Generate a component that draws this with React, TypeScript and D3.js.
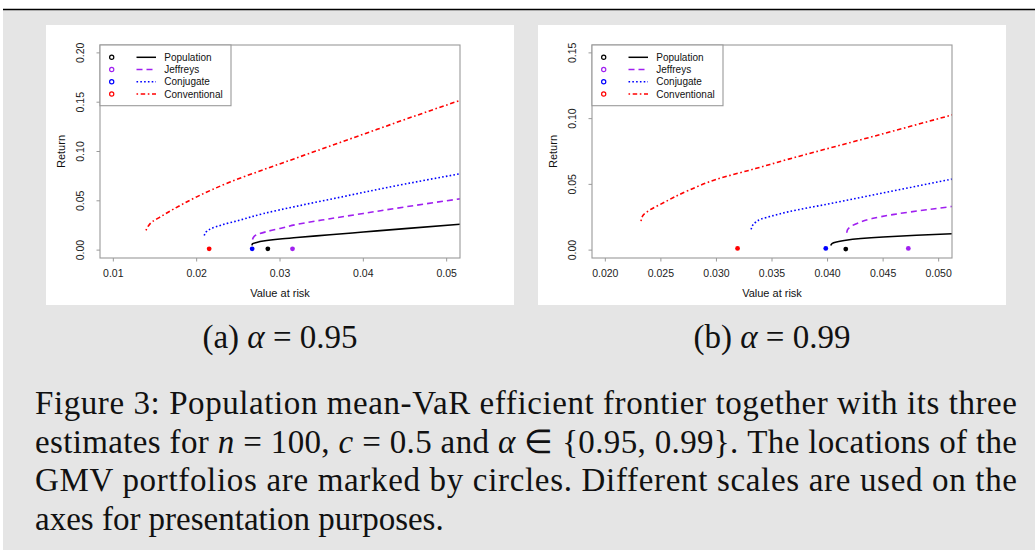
import * as d3 from "d3";

// panel (a): alpha = 0.95, points are [value at risk, return]
const populationA = [[0.02663, 0.0047], [0.0267, 0.0065], [0.0272, 0.0078], [0.028, 0.0092], [0.03, 0.0113], [0.032, 0.0128], [0.036, 0.0155], [0.04, 0.0183], [0.045, 0.0218], [0.052, 0.0265]];
const jeffreysA = [[0.0267, 0.0108], [0.0269, 0.014], [0.0275, 0.0165], [0.0285, 0.019], [0.03, 0.022], [0.032, 0.026], [0.036, 0.0318], [0.04, 0.0372], [0.045, 0.0438], [0.052, 0.0525]];
const conjugateA = [[0.02091, 0.0148], [0.0212, 0.019], [0.0218, 0.022], [0.023, 0.0255], [0.025, 0.03], [0.028, 0.037], [0.032, 0.0445], [0.036, 0.0515], [0.04, 0.0585], [0.045, 0.067], [0.052, 0.078]];
const conventionalA = [[0.01392, 0.02], [0.0142, 0.0245], [0.0147, 0.029], [0.0155, 0.033], [0.017, 0.0405], [0.02, 0.054], [0.024, 0.069], [0.028, 0.0815], [0.032, 0.0935], [0.036, 0.1055], [0.04, 0.1175], [0.045, 0.1325], [0.052, 0.153]];
// GMV portfolios: population, jeffreys, conjugate, conventional
const gmvVaRA = [0.02854, 0.0315, 0.02666, 0.0215];
const gmvRetA = [0.0013, 0.0013, 0.0013, 0.0013];

// panel (b): alpha = 0.99
const populationB = [[0.04029, 0.0036], [0.0404, 0.005], [0.0408, 0.0062], [0.0415, 0.0073], [0.043, 0.0088], [0.045, 0.01], [0.048, 0.0113], [0.0515, 0.0125]];
const jeffreysB = [[0.04173, 0.0132], [0.0418, 0.0155], [0.0421, 0.018], [0.0428, 0.0208], [0.044, 0.024], [0.046, 0.0272], [0.049, 0.0308], [0.0515, 0.0335]];
const conjugateB = [[0.03313, 0.0157], [0.0332, 0.018], [0.0335, 0.021], [0.034, 0.0235], [0.035, 0.026], [0.0365, 0.0292], [0.04, 0.035], [0.045, 0.0435], [0.0515, 0.0545]];
const conventionalB = [[0.02321, 0.022], [0.0234, 0.0265], [0.024, 0.0305], [0.025, 0.035], [0.0275, 0.0455], [0.03, 0.0538], [0.0335, 0.062], [0.0365, 0.0692], [0.04, 0.0772], [0.045, 0.0885], [0.0515, 0.1035]];
const gmvVaRB = [0.04164, 0.04727, 0.03984, 0.0319];
const gmvRetB = [0.0008, 0.0013, 0.0013, 0.0013];

const xTicksA = [0.01, 0.02, 0.03, 0.04, 0.05];
const yTicksA = [0, 0.05, 0.1, 0.15, 0.2];
const xTicksB = [0.02, 0.025, 0.03, 0.035, 0.04, 0.045, 0.05];
const yTicksB = [0, 0.05, 0.1, 0.15];

const seriesNames = ["Population", "Jeffreys", "Conjugate", "Conventional"];

const COLORS = ["#000000", "#a020f0", "#0000ff", "#ff0000"];
const DASHES = [null, "6,4", "1.6,2.2", "1.6,2.6,4.5,2.6"];
const SANS = "'Liberation Sans', Arial, Helvetica, sans-serif";
const SERIF = "'Liberation Serif', 'Times New Roman', serif";

// R style axis extension of 4%
const extend = (lo: number, hi: number) => [lo - 0.04 * (hi - lo), hi + 0.04 * (hi - lo)];

type PanelProps = {
  id: string;
  left: number;
  curves: number[][][];
  gmvX: number[];
  gmvY: number[];
  xTicks: number[];
  yTicks: number[];
  xFmt: string;
};

const Panel = ({ id, left, curves, gmvX, gmvY, xTicks, yTicks, xFmt }: PanelProps) => {
  const MARGIN = { left: 54, top: 20, width: 360, height: 213 };
  const px0 = left + MARGIN.left;
  const px1 = px0 + MARGIN.width;
  const py0 = 25 + MARGIN.top;
  const py1 = py0 + MARGIN.height;

  const x = d3.scaleLinear().domain(extend(xTicks[0], xTicks[xTicks.length - 1])).range([px0, px1]);
  const y = d3.scaleLinear().domain(extend(yTicks[0], yTicks[yTicks.length - 1])).range([py1, py0]);

  const line = d3
    .line<number[]>()
    .x((d) => x(d[0]))
    .y((d) => y(d[1]))
    .curve(d3.curveMonotoneY);

  const fx = d3.format(xFmt);
  const fy = d3.format(".2f");
  const axisColor = "#9a9a9a";
  const rowY = (i: number) => py0 + 12.3 + i * 12.25;

  return (
    <g>
      <rect x={left} y={25} width={468} height={280} fill="#ffffff" />
      <defs>
        <clipPath id={`clip-${id}`}>
          <rect x={px0} y={py0} width={MARGIN.width} height={MARGIN.height} />
        </clipPath>
      </defs>

      <g clipPath={`url(#clip-${id})`}>
        {curves.map((c, i) => (
          <path
            key={i}
            d={line(c) || ""}
            fill="none"
            stroke={COLORS[i]}
            strokeWidth={1.6}
            strokeDasharray={DASHES[i] || undefined}
          />
        ))}
        {gmvX.map((v, i) => (
          <circle key={i} cx={x(v)} cy={y(gmvY[i])} r={2.4} fill={COLORS[i]} />
        ))}
      </g>

      <rect x={px0} y={py0} width={MARGIN.width} height={MARGIN.height} fill="none" stroke={axisColor} strokeWidth={1.1} />

      {xTicks.map((t, i) => (
        <g key={i}>
          <line x1={x(t)} x2={x(t)} y1={py1} y2={py1 + 3.5} stroke={axisColor} strokeWidth={1} />
          <text x={x(t)} y={py1 + 19} textAnchor="middle" fontFamily={SANS} fontSize={10.5} fill="#222">
            {fx(t)}
          </text>
        </g>
      ))}
      {yTicks.map((t, i) => (
        <g key={i}>
          <line x1={px0 - 3.5} x2={px0} y1={y(t)} y2={y(t)} stroke={axisColor} strokeWidth={1} />
          <text
            transform={`translate(${px0 - 16.5},${y(t)}) rotate(-90)`}
            textAnchor="middle"
            fontFamily={SANS}
            fontSize={10.5}
            fill="#222"
          >
            {fy(t)}
          </text>
        </g>
      ))}

      <text x={(px0 + px1) / 2} y={297} textAnchor="middle" fontFamily={SANS} fontSize={11} fill="#111">
        Value at risk
      </text>
      <text
        transform={`translate(${px0 - 35},${(py0 + py1) / 2}) rotate(-90)`}
        textAnchor="middle"
        fontFamily={SANS}
        fontSize={11}
        fill="#111"
      >
        Return
      </text>

      <rect x={px0} y={py0} width={131} height={60.7} fill="#ffffff" stroke={axisColor} strokeWidth={1.1} />
      {seriesNames.map((name, i) => (
        <g key={name}>
          <circle cx={px0 + 11.7} cy={rowY(i)} r={2.1} fill="none" stroke={COLORS[i]} strokeWidth={1.2} />
          <line
            x1={px0 + 36.5}
            x2={px0 + 56}
            y1={rowY(i)}
            y2={rowY(i)}
            stroke={COLORS[i]}
            strokeWidth={1.5}
            strokeDasharray={DASHES[i] || undefined}
          />
          <text x={px0 + 64.3} y={rowY(i) + 3.6} fontFamily={SANS} fontSize={10} fill="#111">
            {name}
          </text>
        </g>
      ))}
    </g>
  );
};

const Caption = () => {
  const fs = 33;
  const it = { fontStyle: "italic" as const };
  return (
    <g fontFamily={SERIF} fontSize={fs} fill="#111">
      <text x={280} y={348} textAnchor="middle">
        (a) <tspan {...it}>α</tspan> = 0.95
      </text>
      <text x={772} y={348} textAnchor="middle">
        (b) <tspan {...it}>α</tspan> = 0.99
      </text>
      <text x={35} y={414} textLength={982} lengthAdjust="spacing">
        Figure 3: Population mean-VaR efficient frontier together with its three
      </text>
      <text x={35} y={452.5} textLength={982} lengthAdjust="spacing">
        estimates for <tspan {...it}>n</tspan> = 100, <tspan {...it}>c</tspan> = 0.5 and <tspan {...it}>α</tspan> ∈ {"{"}0.95, 0.99{"}"}. The locations of the
      </text>
      <text x={35} y={491} textLength={982} lengthAdjust="spacing">
        GMV portfolios are marked by circles. Different scales are used on the
      </text>
      <text x={35} y={529.5}>axes for presentation purposes.</text>
    </g>
  );
};

export default function App() {
  return (
    <svg width={1035} height={550} style={{ position: "absolute", left: 0, top: 0 }}>
      <rect x={0} y={0} width={1035} height={550} fill="#ffffff" />
      <rect x={3} y={10} width={1032} height={540} fill="#e5e5e5" />
      <line x1={3} x2={1035} y1={9.5} y2={9.5} stroke="#000" strokeWidth={1.3} />
      <Panel
        id="a"
        left={46}
        curves={[populationA, jeffreysA, conjugateA, conventionalA]}
        gmvX={gmvVaRA}
        gmvY={gmvRetA}
        xTicks={xTicksA}
        yTicks={yTicksA}
        xFmt=".2f"
      />
      <Panel
        id="b"
        left={538}
        curves={[populationB, jeffreysB, conjugateB, conventionalB]}
        gmvX={gmvVaRB}
        gmvY={gmvRetB}
        xTicks={xTicksB}
        yTicks={yTicksB}
        xFmt=".3f"
      />
      <Caption />
    </svg>
  );
}
